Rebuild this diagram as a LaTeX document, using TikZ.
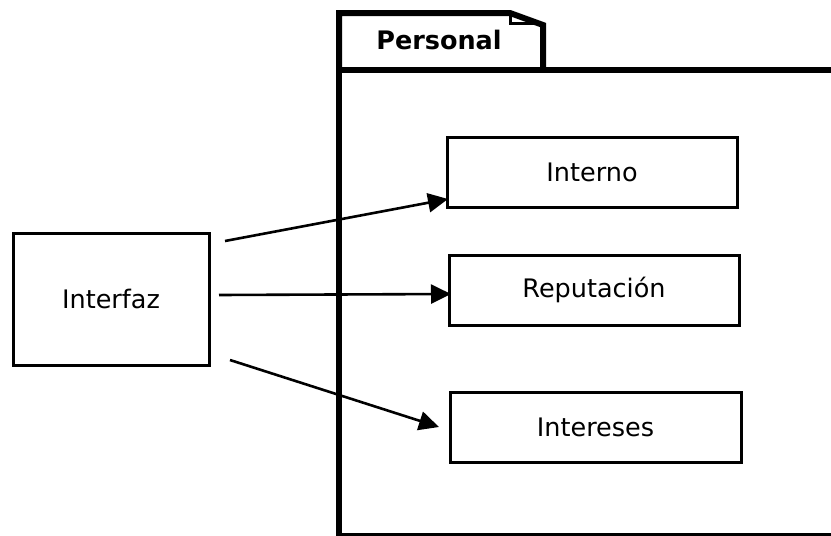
\documentclass[tikz,border=0pt]{standalone}
\usepackage{fontspec}
\setmainfont{DejaVu Sans}
\usetikzlibrary{arrows.meta}
\begin{document}
\begin{tikzpicture}[x=1pt,y=-1pt,
  box/.style={draw,line width=3pt,minimum width=#1,inner sep=0pt,
    font=\fontsize{25.5}{30}\selectfont},
  pkg/.style={line width=6pt,line join=miter},
  link/.style={line width=2.6pt,-{Triangle[length=20pt,width=19pt]}}]
\useasboundingbox (0,0) rectangle (831,536);
% package frame with its tab
\draw[pkg] (339,536) -- (339,70) -- (840,70);
\draw[line width=4pt] (337,535) -- (840,535);
\draw[pkg] (339,70) -- (339,13) -- (510,13) -- (543,25) -- (543,70);
\draw[line width=3pt] (510,13) -- (510,23) -- (543,23);
\node[font=\bfseries\fontsize{25.5}{30}\selectfont] (title) at (439,40) {Personal};
% classes
\node[box=196pt,minimum height=132pt] (interfaz) at (111,299) {Interfaz};
\node[box=290pt,minimum height=70pt] (interno) at (592,172) {Interno};
\node[box=290pt,minimum height=70pt] (reput) at (594,290) {Reputación};
\node[box=291pt,minimum height=70pt] (inter) at (595.5,427) {Intereses};
% connectors
\coordinate (s1) at (225,241);
\coordinate (s2) at (219,295);
\coordinate (s3) at (230,360);
\coordinate (e1) at (448,199);
\coordinate (e2) at (451,294);
\coordinate (e3) at (439,427);
\draw[link] (s1) -- (e1);
\draw[link] (s2) -- (e2);
\draw[link] (s3) -- (e3);
\end{tikzpicture}
\end{document}
